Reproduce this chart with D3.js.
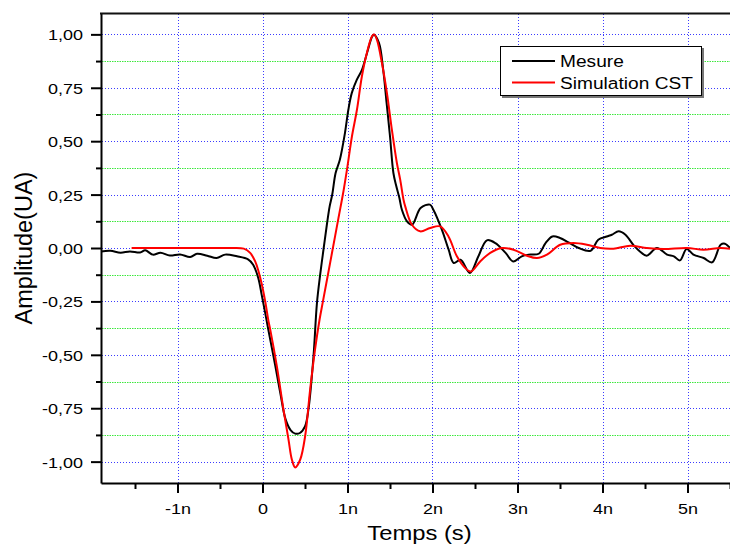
<!DOCTYPE html>
<html>
<head>
<meta charset="utf-8">
<script src="https://cdn.jsdelivr.net/npm/d3@7"></script>
<style>
  html, body { margin: 0; padding: 0; background: #fff; }
  svg { display: block; font-family: "Liberation Sans", Arial, sans-serif; }
</style>
</head>
<body>
<svg id="chart" width="730" height="548"></svg>
<script>
// Time axis in nanoseconds, amplitude in arbitrary units (UA)
const mesureTime = [-1.90,-1.79,-1.67,-1.56,-1.44,-1.38,-1.29,-1.20,-1.09,-0.97,-0.85,-0.77,-0.65,-0.54,-0.44,-0.30,-0.17,-0.11,-0.05,-0.01,0.03,0.07,0.15,0.21,0.27,0.33,0.385,0.44,0.50,0.54,0.60,0.64,0.68,0.72,0.76,0.79,0.82,0.86,0.91,0.97,1.01,1.05,1.11,1.17,1.23,1.29,1.31,1.37,1.42,1.46,1.50,1.54,1.57,1.61,1.64,1.70,1.76,1.86,1.97,2.01,2.11,2.19,2.25,2.33,2.44,2.54,2.64,2.74,2.86,2.95,3.05,3.13,3.25,3.33,3.41,3.50,3.60,3.72,3.86,3.95,4.05,4.11,4.19,4.27,4.37,4.44,4.52,4.64,4.76,4.84,4.91,4.99,5.07,5.19,5.29,5.39,5.44,5.50];
const mesureValue = [-0.016,-0.013,-0.022,-0.016,-0.021,-0.011,-0.031,-0.022,-0.035,-0.030,-0.042,-0.027,-0.036,-0.047,-0.031,-0.039,-0.053,-0.078,-0.140,-0.218,-0.300,-0.385,-0.550,-0.680,-0.800,-0.852,-0.869,-0.866,-0.835,-0.757,-0.507,-0.260,-0.120,0.000,0.117,0.195,0.249,0.351,0.413,0.538,0.647,0.725,0.788,0.834,0.913,0.990,0.998,0.960,0.834,0.679,0.523,0.351,0.296,0.235,0.179,0.125,0.109,0.187,0.203,0.179,0.086,-0.008,-0.070,-0.055,-0.117,-0.039,0.036,0.023,-0.023,-0.063,-0.039,-0.031,-0.027,0.023,0.054,0.047,0.026,0.000,-0.013,0.039,0.054,0.062,0.078,0.062,0.011,-0.016,-0.036,0.000,-0.031,-0.039,-0.058,-0.005,-0.031,-0.047,-0.067,0.015,0.020,0.000];

const simTime = [-1.54,-1.0,-0.6,-0.38,-0.22,-0.145,-0.086,-0.047,-0.007,0.032,0.071,0.091,0.169,0.247,0.306,0.346,0.385,0.444,0.502,0.561,0.620,0.671,0.711,0.758,0.816,0.894,0.953,0.993,1.052,1.111,1.169,1.228,1.287,1.314,1.346,1.405,1.464,1.522,1.581,1.620,1.659,1.679,1.758,1.855,1.973,2.091,2.188,2.287,2.385,2.452,2.561,2.679,2.816,2.953,3.111,3.229,3.346,3.502,3.659,3.816,3.973,4.129,4.326,4.522,4.718,4.993,5.188,5.385,5.50];
const simValue = [0.000,0.000,0.000,0.000,-0.003,-0.023,-0.063,-0.109,-0.172,-0.250,-0.344,-0.382,-0.554,-0.757,-0.897,-0.991,-1.027,-0.990,-0.880,-0.660,-0.470,-0.336,-0.250,-0.150,-0.026,0.141,0.267,0.365,0.522,0.647,0.803,0.913,0.990,1.000,0.975,0.866,0.725,0.554,0.398,0.320,0.226,0.195,0.109,0.078,0.094,0.101,0.054,-0.039,-0.094,-0.110,-0.063,-0.023,0.000,-0.008,-0.036,-0.047,-0.031,0.015,0.023,0.015,0.000,-0.003,0.011,0.000,-0.005,0.000,-0.008,0.000,-0.003];

const seriesNames = ["Mesure", "Simulation CST"];
const seriesColors = ["#000000", "#ff0000"];

const xMajor = [-1, 0, 1, 2, 3, 4, 5];
const xMajorLabels = ["-1n", "0", "1n", "2n", "3n", "4n", "5n"];
const xMinor = [-1.5, -0.5, 0.5, 1.5, 2.5, 3.5, 4.5, 5.5];
const yMajor = [1, 0.75, 0.5, 0.25, 0, -0.25, -0.5, -0.75, -1];
const yMajorLabels = ["1,00", "0,75", "0,50", "0,25", "0,00", "-0,25", "-0,50", "-0,75", "-1,00"];
const yMinor = [0.875, 0.625, 0.375, 0.125, -0.125, -0.375, -0.625, -0.875];

const xTitle = "Temps (s)";
const yTitle = "Amplitude(UA)";

// Plot frame
const frameLeft = 101, frameRight = 730, frameTop = 13, frameBottom = 483;
const stretch = 1.16; // horizontal glyph widening used for the labels

const svg = d3.select("#chart");
const x = d3.scaleLinear().domain([-1.9, 5.5]).range([frameLeft, frameRight]);
const y = d3.scaleLinear().domain([-1.1, 1.1]).range([frameBottom, frameTop]);
const snap = v => Math.round(v) + 0.5;

// Grid: blue dotted at major ticks, green dotted at minor value ticks
const grid = svg.append("g");
grid.selectAll("line.gy").data(yMinor).join("line")
  .attr("x1", frameLeft + 1).attr("x2", frameRight)
  .attr("y1", d => snap(y(d))).attr("y2", d => snap(y(d)))
  .attr("stroke", "#3ee83e").attr("stroke-width", 1).attr("stroke-dasharray", "1.5,1");
grid.selectAll("line.by").data(yMajor).join("line")
  .attr("x1", frameLeft + 1).attr("x2", frameRight)
  .attr("y1", d => snap(y(d))).attr("y2", d => snap(y(d)))
  .attr("stroke", "#3b3bff").attr("stroke-width", 1).attr("stroke-dasharray", "1,2");
grid.selectAll("line.bx").data(xMajor).join("line")
  .attr("y1", frameTop + 1).attr("y2", frameBottom)
  .attr("x1", d => snap(x(d))).attr("x2", d => snap(x(d)))
  .attr("stroke", "#3b3bff").attr("stroke-width", 1).attr("stroke-dasharray", "1,2");

// Curves
const line = d3.line().x(d => x(d[0])).y(d => y(d[1])).curve(d3.curveCatmullRom.alpha(0.5));
const mesure = mesureTime.map((t, i) => [t, mesureValue[i]]);
const sim = simTime.map((t, i) => [t, simValue[i]]);
svg.append("clipPath").attr("id", "plot").append("rect")
  .attr("x", frameLeft).attr("y", frameTop).attr("width", frameRight - frameLeft).attr("height", frameBottom - frameTop);
const curves = svg.append("g").attr("clip-path", "url(#plot)");
curves.append("path").datum(mesure).attr("d", line)
  .attr("fill", "none").attr("stroke", seriesColors[0]).attr("stroke-width", 2).attr("stroke-linejoin", "round");
curves.append("path").datum(sim).attr("d", line)
  .attr("fill", "none").attr("stroke", seriesColors[1]).attr("stroke-width", 2).attr("stroke-linejoin", "round");

// Axes
const xAxis = svg.append("g").attr("transform", `translate(0,${frameBottom})`)
  .call(d3.axisBottom(x).tickValues(xMajor).tickFormat((d, i) => xMajorLabels[i]).tickSizeInner(10).tickSizeOuter(0).tickPadding(0));
const xMinorAxis = svg.append("g").attr("transform", `translate(0,${frameBottom})`)
  .call(d3.axisBottom(x).tickValues(xMinor).tickFormat("").tickSizeInner(6).tickSizeOuter(0));
const yAxis = svg.append("g").attr("transform", `translate(${frameLeft},0)`)
  .call(d3.axisLeft(y).tickValues(yMajor).tickFormat((d, i) => yMajorLabels[i]).tickSizeInner(10).tickSizeOuter(0).tickPadding(0));
const yMinorAxis = svg.append("g").attr("transform", `translate(${frameLeft},0)`)
  .call(d3.axisLeft(y).tickValues(yMinor).tickFormat("").tickSizeInner(5).tickSizeOuter(0));

[xAxis, xMinorAxis, yAxis, yMinorAxis].forEach(g => {
  g.attr("font-family", null).attr("font-size", null);
  g.selectAll("path.domain").attr("stroke", "#000").attr("stroke-width", 2);
  g.selectAll(".tick line").attr("stroke", "#000").attr("stroke-width", 2);
});
xMinorAxis.selectAll("path.domain").remove();
yMinorAxis.selectAll("path.domain").remove();

xAxis.selectAll(".tick text")
  .attr("font-size", 15.5).attr("fill", "#000")
  .attr("y", 31).attr("dy", null)
  .attr("transform", `scale(${stretch},1)`);
yAxis.selectAll(".tick text")
  .attr("font-size", 15.5).attr("fill", "#000")
  .attr("x", -18 / stretch).attr("dy", null).attr("y", 5.5)
  .attr("transform", `scale(${stretch},1)`);

// Top frame line
svg.append("line").attr("x1", frameLeft - 1).attr("x2", frameRight).attr("y1", frameTop + 0.5).attr("y2", frameTop + 0.5)
  .attr("stroke", "#111").attr("stroke-width", 2);

// Axis titles
svg.append("text")
  .attr("transform", `translate(${(frameLeft + frameRight) / 2 + 4},540) scale(${stretch},1)`)
  .attr("text-anchor", "middle").attr("font-size", 20.5).attr("fill", "#000")
  .text(xTitle);
svg.append("text")
  .attr("transform", `translate(32,${(frameTop + frameBottom) / 2}) rotate(-90)`)
  .attr("text-anchor", "middle").attr("font-size", 23.5).attr("fill", "#000")
  .text(yTitle);

// Legend
const lg = svg.append("g");
lg.append("rect").attr("x", 502).attr("y", 48).attr("width", 202).attr("height", 50).attr("fill", "#777");
lg.append("rect").attr("x", 500.5).attr("y", 46.5).attr("width", 201).attr("height", 49)
  .attr("fill", "#fff").attr("stroke", "#000").attr("stroke-width", 1);
const rows = lg.selectAll("g.row").data(seriesNames).join("g")
  .attr("transform", (d, i) => `translate(0,${61 + i * 21.5})`);
rows.append("line").attr("x1", 512).attr("x2", 555).attr("y1", 0).attr("y2", 0)
  .attr("stroke", (d, i) => seriesColors[i]).attr("stroke-width", 2);
rows.append("text")
  .attr("transform", `translate(560,6) scale(${stretch},1)`)
  .attr("font-size", 16.5).attr("fill", "#000")
  .text(d => d);
</script>
</body>
</html>
